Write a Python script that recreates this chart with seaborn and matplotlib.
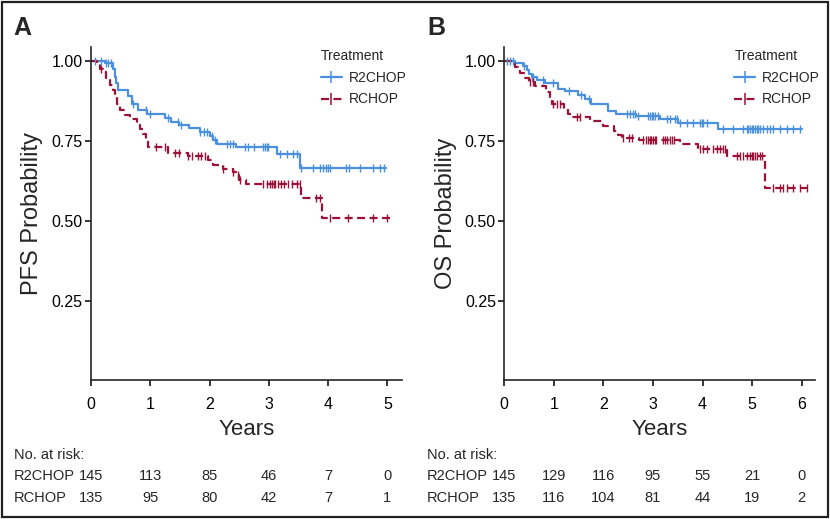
import numpy as np
import pandas as pd
import matplotlib
matplotlib.use("Agg")
import matplotlib.pyplot as plt
from matplotlib.lines import Line2D
from matplotlib.patches import Rectangle
import seaborn as sns

# ---------------- data ----------------
groups = ["R2CHOP", "RCHOP"]

# Panel A: PFS step functions (time of drop, survival after drop); last entry = end of follow-up
pfs_r2_t = [0, 0.23, 0.38, 0.40, 0.42, 0.45, 0.62, 0.70, 0.80, 0.95, 1.25, 1.35, 1.48, 1.65, 1.84, 2.00, 2.05, 2.12, 2.45, 3.13, 3.52, 4.97]
pfs_r2_s = [1.00, 0.993, 0.975, 0.95, 0.93, 0.908, 0.89, 0.867, 0.848, 0.835, 0.822, 0.81, 0.80, 0.79, 0.779, 0.765, 0.752, 0.741, 0.731, 0.709, 0.664, 0.664]
pfs_r_t = [0, 0.10, 0.15, 0.20, 0.25, 0.32, 0.37, 0.40, 0.44, 0.49, 0.57, 0.66, 0.78, 0.83, 0.88, 0.92, 0.96, 1.30, 1.63, 1.98, 2.06, 2.23, 2.40, 2.46, 2.50, 2.62, 3.55, 3.89, 5.04]
pfs_r_s = [1.00, 0.99, 0.976, 0.965, 0.94, 0.924, 0.908, 0.887, 0.867, 0.846, 0.83, 0.82, 0.80, 0.788, 0.773, 0.752, 0.731, 0.712, 0.702, 0.69, 0.674, 0.663, 0.653, 0.642, 0.627, 0.616, 0.571, 0.507, 0.507]
pfs_r2_cens = [0.07, 0.17, 0.25, 0.29, 0.34, 0.71, 0.93, 0.99, 1.30, 1.47, 1.52, 1.84, 1.90, 1.95, 2.04, 2.09, 2.29, 2.34, 2.39,
               2.60, 2.65, 2.75, 2.90, 2.94, 2.97, 2.99, 3.18, 3.30, 3.40, 3.47, 3.55, 3.74, 3.86, 3.91, 3.97, 3.99, 4.03,
               4.31, 4.36, 4.53, 4.75, 4.87, 4.95]
pfs_r_cens = [0.17, 1.10, 1.25, 1.42, 1.48, 1.63, 1.70, 1.80, 1.86, 1.92, 2.23, 2.40, 2.48, 2.52, 2.90, 2.97, 3.02, 3.05, 3.08,
              3.10, 3.15, 3.20, 3.25, 3.32, 3.39, 3.47, 3.52, 3.80, 3.86, 4.03, 4.33, 4.75, 4.99]

# Panel B: OS step functions
os_r2_t = [0, 0.22, 0.38, 0.45, 0.50, 0.55, 0.65, 0.82, 1.08, 1.22, 1.48, 1.63, 1.75, 2.10, 2.25, 2.66, 3.15, 3.50, 4.31, 6.00]
os_r2_s = [1.00, 0.995, 0.985, 0.971, 0.958, 0.95, 0.94, 0.931, 0.914, 0.906, 0.893, 0.882, 0.865, 0.844, 0.835, 0.827, 0.818, 0.806, 0.788, 0.788]
os_r_t = [0, 0.16, 0.22, 0.28, 0.32, 0.40, 0.50, 0.62, 0.84, 0.92, 0.97, 1.20, 1.28, 1.36, 1.73, 2.00, 2.22, 2.30, 2.38, 2.72, 3.55, 3.90, 4.50, 5.26, 6.10]
os_r_s = [1.00, 0.99, 0.98, 0.97, 0.962, 0.948, 0.934, 0.921, 0.903, 0.887, 0.867, 0.851, 0.835, 0.825, 0.812, 0.796, 0.781, 0.768, 0.76, 0.752, 0.739, 0.724, 0.703, 0.601, 0.601]
os_r2_cens = [0.05, 0.12, 0.18, 0.40, 0.56, 0.58, 0.78, 0.99, 1.30, 1.55, 1.70, 2.48, 2.54, 2.60, 2.64, 2.70, 2.90, 2.94, 2.98,
              3.00, 3.04, 3.10, 3.28, 3.34, 3.44, 3.48, 3.55, 3.69, 3.81, 3.95, 3.99, 4.01, 4.09, 4.42, 4.62, 4.82, 4.90,
              4.92, 4.96, 5.00, 5.02, 5.06, 5.10, 5.12, 5.16, 5.22, 5.30, 5.36, 5.42, 5.56, 5.70, 5.82, 5.96]
os_r_cens = [0.52, 0.58, 0.99, 1.07, 1.13, 1.46, 1.53, 2.40, 2.52, 2.58, 2.80, 2.86, 2.90, 2.94, 2.97, 3.00, 3.04, 3.07, 3.20,
             3.24, 3.29, 3.35, 3.38, 3.42, 3.94, 4.00, 4.09, 4.21, 4.29, 4.35, 4.42, 4.46, 4.69, 4.76, 4.82, 4.90, 4.96,
             5.00, 5.02, 5.06, 5.10, 5.16, 5.20, 5.42, 5.56, 5.62, 5.70, 5.82, 5.96, 6.10]

# Risk tables
risk_a_times = [0, 1, 2, 3, 4, 5]
risk_a_r2 = [145, 113, 85, 46, 7, 0]
risk_a_r = [135, 95, 80, 42, 7, 1]
risk_b_times = [0, 1, 2, 3, 4, 5, 6]
risk_b_r2 = [145, 129, 116, 95, 55, 21, 0]
risk_b_r = [135, 116, 104, 81, 44, 19, 2]

y_ticks = [0.25, 0.50, 0.75, 1.00]
y_ticklabels = ["0.25", "0.50", "0.75", "1.00"]

# ---------------- style ----------------
sns.set_style("ticks")
plt.rcParams["font.family"] = ["Liberation Sans", "DejaVu Sans"]
plt.rcParams["axes.linewidth"] = 1.2

BLUE = "#4A90DC"
RED = "#9A1237"
colors = {"R2CHOP": BLUE, "RCHOP": RED}
dashes = {"R2CHOP": "-", "RCHOP": (0, (3.6, 2.0))}
LABEL_FAMILY = ["Liberation Sans Narrow", "Liberation Sans", "DejaVu Sans"]

fig = plt.figure(figsize=(8.30, 5.19), dpi=100)
fig.patches.append(Rectangle((0.003, 0.003), 0.994, 0.993, transform=fig.transFigure,
                             fill=False, edgecolor="#222222", linewidth=1.6, zorder=10))

ax_a = fig.add_axes([0.1096, 0.2672, 0.3743, 0.6428])
ax_b = fig.add_axes([0.6076, 0.2672, 0.3743, 0.6428])


def step_value(t_arr, s_arr, t):
    idx = np.searchsorted(np.asarray(t_arr), t, side="right") - 1
    return np.asarray(s_arr)[np.clip(idx, 0, len(s_arr) - 1)]


def draw_panel(ax, curves, xmax, xticks, ylabel, risk_times, risk_rows, letter):
    for g, (t_arr, s_arr, cens) in zip(groups, curves):
        df = pd.DataFrame({"t": t_arr, "s": s_arr})
        sns.lineplot(data=df, x="t", y="s", ax=ax, color=colors[g], linestyle=dashes[g],
                     drawstyle="steps-post", estimator=None, sort=False, linewidth=1.6)
        cdf = pd.DataFrame({"t": cens, "s": step_value(t_arr, s_arr, np.asarray(cens))})
        sns.scatterplot(data=cdf, x="t", y="s", ax=ax, marker="|", color=colors[g],
                        s=26, linewidth=1.0, zorder=3)
    ax.set_xlim(0, xmax)
    ax.set_ylim(0, 1.045)
    ax.set_xticks(xticks)
    ax.set_xticklabels([str(x) for x in xticks])
    ax.set_yticks(y_ticks)
    ax.set_yticklabels(y_ticklabels)
    ax.tick_params(axis="both", direction="out", length=4, width=1.1, labelsize=11.5,
                   colors="black", pad=2)
    ax.tick_params(axis="x", pad=8)
    sns.despine(ax=ax)
    ax.set_xlabel("Years", fontsize=16, labelpad=5, family=LABEL_FAMILY)
    ax.set_ylabel(ylabel, fontsize=17, labelpad=6, family=LABEL_FAMILY)

    handles = [Line2D([0], [0], color=colors[g], linestyle=dashes[g], linewidth=1.6,
                      marker="|", markersize=8, markeredgewidth=1.1) for g in groups]
    ax.legend(handles, groups, title="Treatment", loc="upper left",
              bbox_to_anchor=(0.70, 1.03), frameon=False, fontsize=10,
              title_fontsize=10, handlelength=1.5, handletextpad=0.5,
              labelspacing=0.55, alignment="left")

    bb = ax.get_position()
    x_left = bb.x0 - 0.093
    fig.text(x_left, 1 - 35 / 519, letter, fontsize=18, fontweight="bold", ha="left", va="baseline")
    # risk table
    trans = matplotlib.transforms.blended_transform_factory(ax.transData, fig.transFigure)
    fig.text(x_left, 1 - 455 / 519, "No. at risk:", fontsize=10.5, ha="left", va="center")
    for row_i, (g, counts) in enumerate(zip(groups, risk_rows)):
        yy = 1 - (476.5 + row_i * 21.5) / 519
        fig.text(x_left, yy, g, fontsize=10.5, ha="left", va="center")
        for tx, c in zip(risk_times, counts):
            ax.text(tx, yy, str(c), transform=trans, fontsize=10.5, ha="center", va="center",
                    clip_on=False)


draw_panel(ax_a, [(pfs_r2_t, pfs_r2_s, pfs_r2_cens), (pfs_r_t, pfs_r_s, pfs_r_cens)],
           5.24, [0, 1, 2, 3, 4, 5], "PFS Probability", risk_a_times, [risk_a_r2, risk_a_r], "A")
draw_panel(ax_b, [(os_r2_t, os_r2_s, os_r2_cens), (os_r_t, os_r_s, os_r_cens)],
           6.27, [0, 1, 2, 3, 4, 5, 6], "OS Probability", risk_b_times, [risk_b_r2, risk_b_r], "B")

fig.savefig("out.png", dpi=100)
